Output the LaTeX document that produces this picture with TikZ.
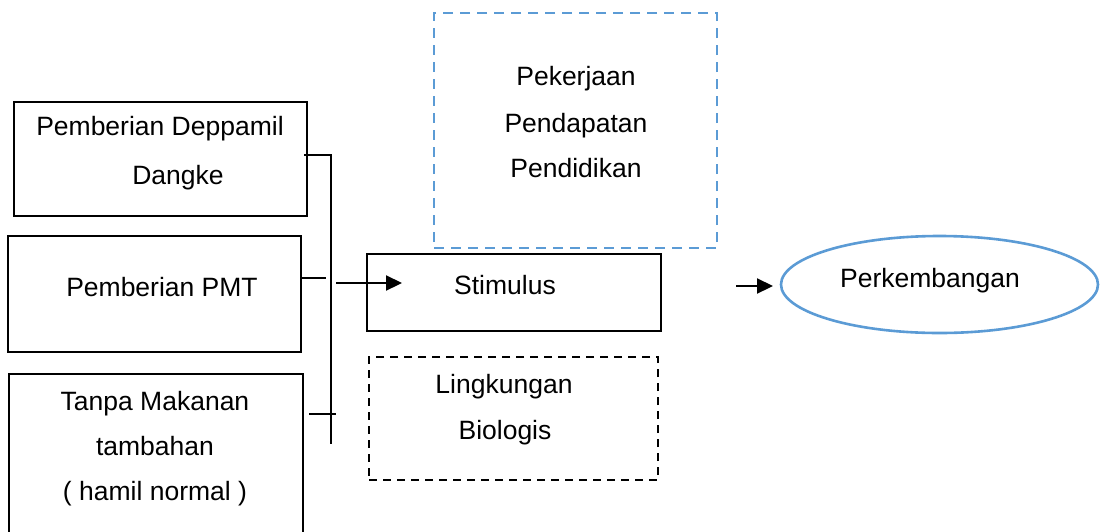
\documentclass[tikz,border=0pt]{standalone}
\usepackage{fontspec}
\setmainfont{Liberation Sans}
\usetikzlibrary{arrows.meta,shapes.geometric}
\definecolor{blueline}{RGB}{91,155,213}
\tikzset{
  lbl/.style={anchor=base,inner sep=0,font=\fontsize{26.5}{31}\selectfont},
  conn/.style={draw=black,line width=2.2},
  arr/.style={conn,-{Triangle[length=16,width=15]}},
}
\begin{document}
\begin{tikzpicture}[x=1pt,y=-1pt]
\useasboundingbox (0,0) rectangle (1104,531);
% boxes
\node[draw,line width=2.2,minimum width=293,minimum height=114,inner sep=0] (b1) at (160.5,159) {};
\node[draw,line width=2.2,minimum width=293,minimum height=116,inner sep=0] (b2) at (154.5,294) {};
\node[draw,line width=2.2,minimum width=294,minimum height=164,inner sep=0] (b3) at (156,456) {};
\node[draw,line width=2.2,minimum width=294,minimum height=77,inner sep=0] (stim) at (514,292.5) {};
\node[draw,line width=2.2,dash pattern=on 8 off 6,minimum width=289,minimum height=123,inner sep=0] (env) at (513.5,418.5) {};
\node[draw=blueline,line width=2.6,dash pattern=on 10 off 7,minimum width=283,minimum height=235,inner sep=0] (soc) at (575.5,130.5) {};
\node[draw=blueline,line width=2.6,ellipse,minimum width=317,minimum height=97,inner sep=0] (perk) at (939.5,284.5) {};
% labels
\node[lbl] (t1a) at (160,135) {Pemberian Deppamil};
\node[lbl] (t1b) at (178,184) {Dangke};
\node[lbl] (t2) at (162,296) {Pemberian PMT};
\node[lbl] (t3a) at (155,410) {Tanpa Makanan};
\node[lbl] (t3b) at (155,455) {tambahan};
\node[lbl] (t3c) at (155,500) {( hamil normal )};
\node[lbl] (ts) at (505,294) {Stimulus};
\node[lbl] (te1) at (504,393) {Lingkungan};
\node[lbl] (te2) at (505,439) {Biologis};
\node[lbl] (tp1) at (576,85) {Pekerjaan};
\node[lbl] (tp2) at (576,132) {Pendapatan};
\node[lbl] (tp3) at (576,177) {Pendidikan};
\node[lbl] (tk) at (930,287) {Perkembangan};
% connectors
\coordinate (bt) at (331,155);
\coordinate (bb) at (331,444);
\coordinate (m2) at (326,278);
\coordinate (a0) at (336,283);
\coordinate (a1) at (402,283);
\coordinate (c3a) at (309,414);
\coordinate (c3b) at (336,414);
\coordinate (r0) at (736,286);
\coordinate (r1) at (773,286);
\draw[conn] ([xshift=-4]b1.east |- bt) -- (bt) -- (bb);
\draw[conn] (b2.east |- m2) -- (m2);
\draw[conn] (c3a) -- (c3b);
\draw[arr] (a0) -- (a1);
\draw[arr] (r0) -- (r1);
\end{tikzpicture}
\end{document}
